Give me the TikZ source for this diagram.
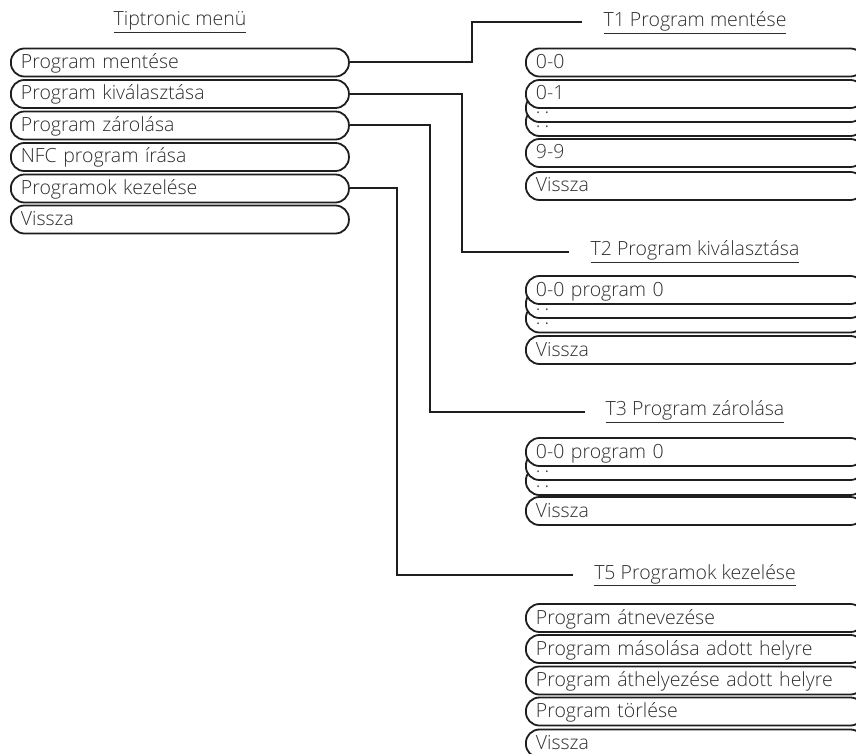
\documentclass[tikz,border=0pt]{standalone}
\usepackage{fontspec}
\setmainfont{Open Sans Light}
\usepackage{tikz}

\definecolor{txtgray}{HTML}{2E2E2E}
\definecolor{linegray}{HTML}{1E1E1E}

\tikzset{
    menubox/.style={draw=linegray, line width=1.8pt, fill=white, rounded corners=13.5pt,
        anchor=west, text width=318pt, align=left, inner xsep=10pt, inner ysep=0pt,
        text height=15pt, text depth=3pt, minimum height=28pt, text=txtgray,
        font=\fontsize{19.5}{21}\selectfont},
    menutitle/.style={inner xsep=21pt, text=txtgray, font=\fontsize{19.5}{21}\selectfont},
    conn/.style={line width=2pt, draw=linegray}
}

\begin{document}
\begin{tikzpicture}[x=1pt, y=-1pt]
    \useasboundingbox (0,0) rectangle (856,754);
    \clip (0,0) rectangle (856,754);

    % main menu
    \node[menutitle] (tm) at (180,22) {\underline{Tiptronic menü}};
    \node[menubox] (m1) at (10,62.5) {Program mentése};
    \node[menubox] (m2) at (10,94) {Program kiválasztása};
    \node[menubox] (m3) at (10,125.5) {Program zárolása};
    \node[menubox] (m4) at (10,157) {NFC program írása};
    \node[menubox] (m5) at (10,188.5) {Programok kezelése};
    \node[menubox] (m6) at (10,219.5) {Vissza};

    % T1 submenu
    \node[menutitle] (t1) at (695,22.5) {\underline{T1 Program mentése}};
    \node[menubox] (a1) at (525,62.5) {0-0};
    \node[menubox] (a4) at (525,122) {.\hspace{4pt}.};
    \node[menubox] (a3) at (525,108) {.\hspace{4pt}.};
    \node[menubox] (a2) at (525,94) {0-1};
    \node[menubox] (a5) at (525,153) {9-9};
    \node[menubox] (a6) at (525,186) {Vissza};

    % T2 submenu
    \node[menutitle] (t2) at (695,251.5) {\underline{T2 Program kiválasztása}};
    \node[menubox] (b3) at (525,318.5) {.\hspace{4pt}.};
    \node[menubox] (b2) at (525,304) {.\hspace{4pt}.};
    \node[menubox] (b1) at (525,290) {0-0 program 0};
    \node[menubox] (b4) at (525,350) {Vissza};

    % T3 submenu
    \node[menutitle] (t3) at (695,411.5) {\underline{T3 Program zárolása}};
    \node[menubox] (c3) at (525,481) {.\hspace{4pt}.};
    \node[menubox] (c2) at (525,466) {.\hspace{4pt}.};
    \node[menubox] (c1) at (525,452) {0-0 program 0};
    \node[menubox] (c4) at (525,511) {Vissza};

    % T5 submenu
    \node[menutitle] (t5) at (695,575) {\underline{T5 Programok kezelése}};
    \node[menubox] (d1) at (525,618) {Program átnevezése};
    \node[menubox] (d2) at (525,649) {Program másolása adott helyre};
    \node[menubox] (d3) at (525,680.5) {Program áthelyezése adott helyre};
    \node[menubox] (d4) at (525,711.5) {Program törlése};
    \node[menubox] (d5) at (525,743.5) {Vissza};

    % corners of the connectors
    \coordinate (k1) at (471.5,22.5);
    \coordinate (k2) at (461.5,251.5);
    \coordinate (k3) at (429.5,411.5);
    \coordinate (k5) at (396.5,575);

    % connectors
    \draw[conn] (m1.east) -| (k1) -- (t1.west);
    \draw[conn] (m2.east) -| (k2) -- (t2.west);
    \draw[conn] (m3.east) -| (k3) -- (t3.west);
    \draw[conn] (m5.east) -| (k5) -- (t5.west);
\end{tikzpicture}
\end{document}
